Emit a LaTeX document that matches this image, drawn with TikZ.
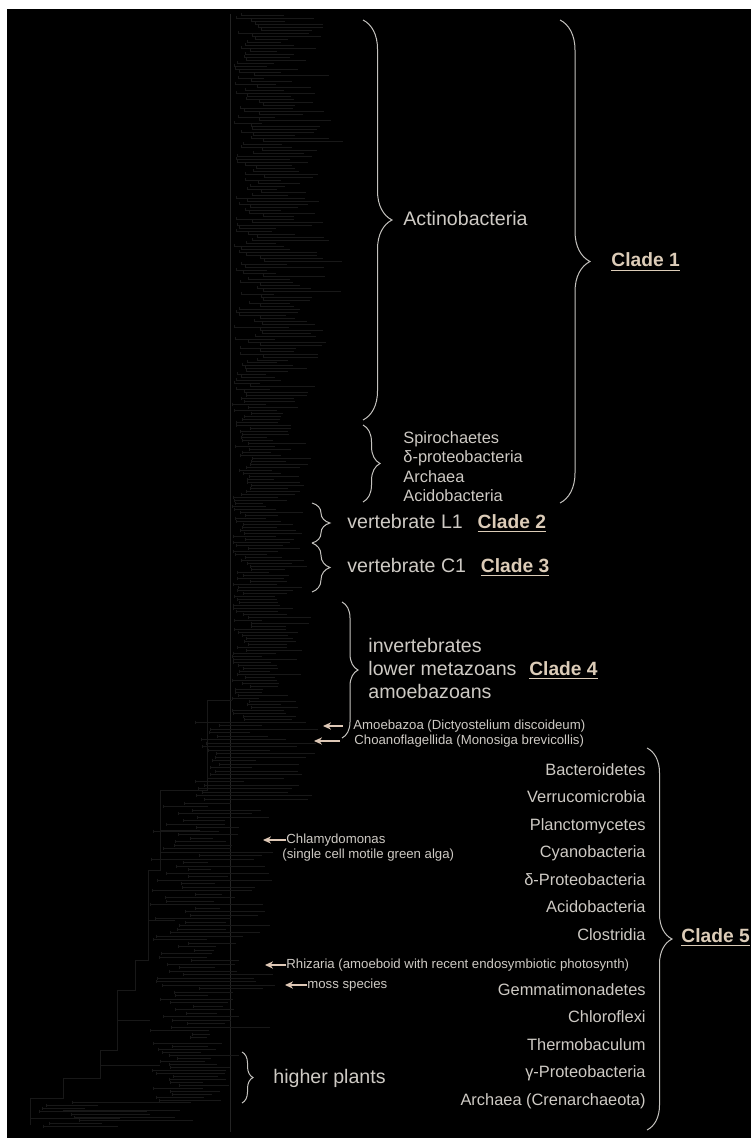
\documentclass[tikz,border=0pt]{standalone}
\usepackage{fontspec}
\setmainfont{Liberation Sans}
\usetikzlibrary{arrows.meta, positioning, decorations.pathreplacing}
\definecolor{labelgray}{RGB}{206,202,196}
\definecolor{cladetan}{RGB}{220,204,184}
\definecolor{bracegray}{RGB}{196,194,190}
\definecolor{arrowtan}{RGB}{222,200,182}
\definecolor{treegray}{RGB}{24,24,24}
\definecolor{axisgray}{RGB}{36,36,36}

\begin{document}
\begin{tikzpicture}[
        x=0.5pt, y=-0.5pt,
        brc/.style={decorate, decoration={brace, amplitude=#1}, draw=bracegray, line width=0.5pt},
        big/.style={text=labelgray, font=\fontsize{9.8}{11}\selectfont, inner sep=0pt, text height=7pt, text depth=2pt, anchor=west},
        mid/.style={text=labelgray, font=\fontsize{8.2}{10}\selectfont, inner sep=0pt, text height=6pt, text depth=1.7pt},
        small/.style={text=labelgray, font=\fontsize{6.6}{8}\selectfont, inner sep=0pt, text height=4.8pt, text depth=1.4pt, anchor=west},
        clade/.style={text=cladetan, font=\bfseries\fontsize{9.6}{11}\selectfont, inner sep=0pt, text height=7pt, text depth=2pt, anchor=west},
        arr/.style={-{Stealth[length=4pt, width=3.6pt]}, draw=arrowtan, line width=0.6pt},
        leaf/.style={draw=treegray, line width=0.3pt}
        ]
        \useasboundingbox (0,0) rectangle (751,1138);
        \fill[white] (0,0) rectangle (751,1138);
        \fill[black] (7,9) rectangle (751,1138);

        \draw[axisgray, line width=0.5pt] (230,14) -- (230,1132);
        \pgfmathsetseed{42}
        \foreach \y in {15,18,...,360} {
            \pgfmathsetmacro{\xa}{234+30*rnd}
            \pgfmathsetmacro{\xb}{\xa+25+55*rnd}
            \draw[leaf] (\xa,\y) -- (\xb,\y) (\xa,\y-1.5) -- (\xa,\y+1.5);
        }
        \foreach \y in {362,365,...,720} {
            \pgfmathsetmacro{\xa}{232+20*rnd}
            \pgfmathsetmacro{\xb}{\xa+25+40*rnd}
            \draw[leaf] (\xa,\y) -- (\xb,\y) (\xa,\y-1.5) -- (\xa,\y+1.5);
        }
        \foreach \y in {722,725.5,...,800} {
            \pgfmathsetmacro{\xa}{195+25*rnd}
            \pgfmathsetmacro{\xb}{240+80*rnd}
            \draw[leaf] (\xa,\y) -- (\xb,\y) (\xa,\y-1.5) -- (\xa,\y+1.5);
        }
        \foreach \y in {803,806.5,...,1040} {
            \pgfmathsetmacro{\xa}{150+50*rnd}
            \pgfmathsetmacro{\xb}{205+70*rnd}
            \draw[leaf] (\xa,\y) -- (\xb,\y) (\xa,\y-1.5) -- (\xa,\y+1.5);
        }
        \foreach \y in {1043,1046,...,1100} {
            \pgfmathsetmacro{\xa}{150+30*rnd}
            \pgfmathsetmacro{\xb}{200+40*rnd}
            \draw[leaf] (\xa,\y) -- (\xb,\y) (\xa,\y-1.5) -- (\xa,\y+1.5);
        }
        \foreach \y in {1102,1105,...,1128} {
            \pgfmathsetmacro{\xa}{30+60*rnd}
            \pgfmathsetmacro{\xb}{\xa+40+100*rnd}
            \draw[leaf] (\xa,\y) -- (\xb,\y) (\xa,\y-1.5) -- (\xa,\y+1.5);
        }
        \draw[leaf] (232,700) -- (207,700) -- (207,790) -- (160,790) -- (160,870) -- (148,870) -- (148,960)
            -- (135,960) -- (135,990) -- (117,990) -- (117,1050) -- (100,1050) -- (100,1078)
            -- (63,1078) -- (63,1098) -- (30,1098) -- (30,1125);
        \draw[leaf] (160,830) -- (200,830) (148,920) -- (175,920) (117,1020) -- (150,1020)
            (100,1065) -- (160,1065) (63,1110) -- (180,1110) (30,1118) -- (120,1118);

        \coordinate (c1t) at (560,20);
        \coordinate (c1b) at (560,503);
        \coordinate (actt) at (363,20);
        \coordinate (actb) at (363,420);
        \coordinate (spt) at (363,425);
        \coordinate (spb) at (363,502);
        \coordinate (c2t) at (312,503);
        \coordinate (c2b) at (312,543);
        \coordinate (c3t) at (312,543);
        \coordinate (c3b) at (312,592);
        \coordinate (c4t) at (342,602);
        \coordinate (c4b) at (342,738);
        \coordinate (c5t) at (647,748);
        \coordinate (c5b) at (647,1130);
        \coordinate (hpt) at (242,1052);
        \coordinate (hpb) at (242,1103);

        \draw[brc=15pt] (c1t) -- (c1b);
        \draw[brc=14.5pt] (actt) -- (actb);
        \draw[brc=8.5pt] (spt) -- (spb);
        \draw[brc=9pt] (c2t) -- (c2b);
        \draw[brc=9pt] (c3t) -- (c3b);
        \draw[brc=8pt] (c4t) -- (c4b);
        \draw[brc=12.5pt] (c5t) -- (c5b);
        \draw[brc=5.5pt] (hpt) -- (hpb);

        \node[big] (actino) at (403,221) {Actinobacteria};
        \node[clade] (cl1) at (611,262) {\underline{Clade 1}};
        \node[mid, anchor=west] (spiro) at (403,439) {Spirochaetes};
        \node[mid, below=9.75pt of spiro.west, anchor=west] (dprot) {δ-proteobacteria};
        \node[mid, below=9.75pt of dprot.west, anchor=west] (arch) {Archaea};
        \node[mid, below=9.75pt of arch.west, anchor=west] (acido) {Acidobacteria};

        \node[big] (vl1) at (347,523) {vertebrate L1};
        \node[clade, base right=7pt of vl1] (cl2) {\underline{Clade 2}};
        \node[big] (vc1) at (347,567) {vertebrate C1};
        \node[clade, base right=7pt of vc1] (cl3) {\underline{Clade 3}};

        \node[big] (lowmet) at (368,670) {lower metazoans};
        \node[big, above=11.5pt of lowmet.west, anchor=west] (invert) {invertebrates};
        \node[big, below=11.5pt of lowmet.west, anchor=west] (amoebz) {amoebazoans};
        \node[clade, base right=6pt of lowmet] (cl4) {\underline{Clade 4}};

        \node[small] (amoeba) at (353,726) {Amoebazoa (Dictyostelium discoideum)};
        \node[small] (choano) at (354,741) {Choanoflagellida (Monosiga brevicollis)};
        \coordinate (amoebatip) at (323,726);
        \coordinate (choanotip) at (314,741);
        \draw[arr, shorten <=5pt] (amoeba) -- (amoebatip);
        \draw[arr, shorten <=7pt] (choano) -- (choanotip);

        \node[small] (chlamy) at (286,840) {Chlamydomonas};
        \node[small, below=7.5pt of chlamy.west, anchor=west, xshift=-2] (chlamyb) {(single cell motile green alga)};
        \coordinate (chlamytip) at (263,840);
        \draw[arr] (chlamy) -- (chlamytip);

        \node[small] (rhiz) at (286,965) {Rhizaria (amoeboid with recent endosymbiotic photosynth)};
        \coordinate (rhiztip) at (265,965);
        \draw[arr] (rhiz) -- (rhiztip);

        \node[small] (moss) at (307,985) {moss species};
        \coordinate (mosstip) at (285,985);
        \draw[arr] (moss) -- (mosstip);

        \node[mid, anchor=east] (bact) at (646,771) {Bacteroidetes};
        \node[mid, below=13.75pt of bact.east, anchor=east] (verru) {Verrucomicrobia};
        \node[mid, below=13.75pt of verru.east, anchor=east] (planc) {Planctomycetes};
        \node[mid, below=13.75pt of planc.east, anchor=east] (cyano) {Cyanobacteria};
        \node[mid, below=13.75pt of cyano.east, anchor=east] (dprot5) {δ-Proteobacteria};
        \node[mid, below=13.75pt of dprot5.east, anchor=east] (acido5) {Acidobacteria};
        \node[mid, below=13.75pt of acido5.east, anchor=east] (clost) {Clostridia};
        \node[mid, below=27.5pt of clost.east, anchor=east] (gemma) {Gemmatimonadetes};
        \node[mid, below=13.75pt of gemma.east, anchor=east] (chlfx) {Chloroflexi};
        \node[mid, below=13.75pt of chlfx.east, anchor=east] (therm) {Thermobaculum};
        \node[mid, below=13.75pt of therm.east, anchor=east] (gprot) {γ-Proteobacteria};
        \node[mid, below=13.75pt of gprot.east, anchor=east] (crena) {Archaea (Crenarchaeota)};
        \node[clade] (cl5) at (681,937) {\underline{Clade 5}};

        \node[big] (higher) at (273,1078) {higher plants};
    \end{tikzpicture}
\end{document}
